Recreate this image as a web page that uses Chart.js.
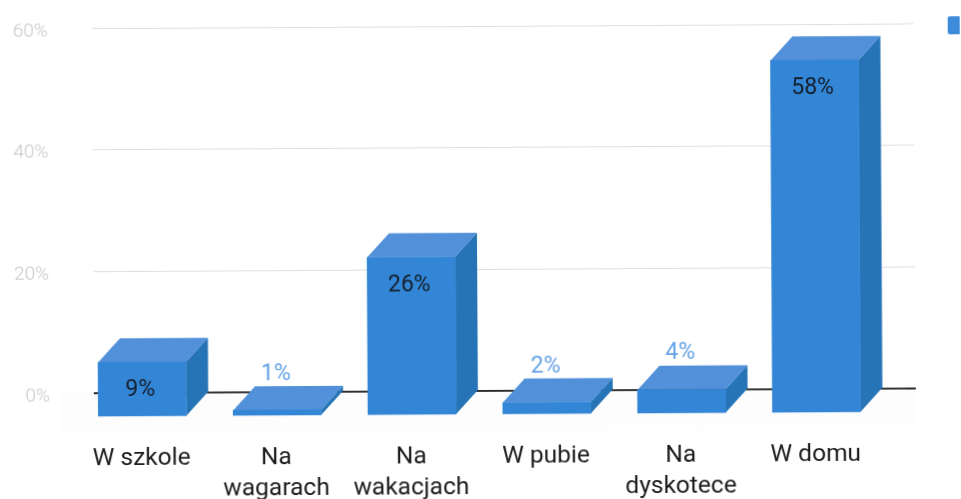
<!DOCTYPE html>
<html><head><meta charset="utf-8">
<style>html,body{margin:0;padding:0;background:#fff;overflow:hidden}
#wrap{width:961px;height:499px;transform:rotate(-0.33deg);transform-origin:480px 250px;filter:blur(.35px)}
canvas{display:block}</style>
<script src="https://cdn.jsdelivr.net/npm/chart.js@4"></script>
</head><body><div id="wrap"><canvas id="c" width="961" height="499"></canvas></div>
<script>
const categories=[["W szkole"],["Na","wagarach"],["Na","wakacjach"],["W pubie"],["Na","dyskotece"],["W domu"]];
const values=[9,1,26,2,4,58];
const yTicks=[0,20,40,60];
const insideLabelMin=5;
const DX=22,DY=24;
const frontColor='#3385d6',topColor='#5291da',sideColor='#2674b6',swatchColor='#3d8cdc';
const threeD={id:'threeD',
 beforeDatasetsDraw(chart){
  const {ctx,chartArea:a,scales:{y}}=chart;
  ctx.save();
  const g=ctx.createLinearGradient(0,a.bottom,0,a.bottom+50);
  g.addColorStop(0,'rgba(240,238,246,.12)');g.addColorStop(.6,'rgba(240,238,246,.12)');g.addColorStop(1,'rgba(240,238,246,0)');
  ctx.fillStyle=g;ctx.fillRect(60,a.bottom,a.right-50,50);
  y.ticks.forEach(t=>{
   const py=y.getPixelForValue(t.value);
   ctx.beginPath();ctx.strokeStyle=gridColor(t.value);ctx.lineWidth=gridWidth(t.value);
   ctx.moveTo(a.left-3,py);ctx.lineTo(a.left,py);
   ctx.moveTo(a.right,py);ctx.lineTo(a.right+10,py);ctx.stroke();
  });
  ctx.fillStyle=swatchColor;ctx.beginPath();ctx.roundRect(a.right+44,19,20,18,2);ctx.fill();
  ctx.restore();
 },
 beforeDatasetDraw(chart,args){
  const ctx=chart.ctx;
  args.meta.data.forEach(el=>{
   const h=el.width/2,x=el.x,y=el.y,b=el.base;
   ctx.fillStyle=topColor;ctx.beginPath();
   ctx.moveTo(x-h-DX,y+DY);ctx.lineTo(x+h-DX,y+DY);ctx.lineTo(x+h,y);ctx.lineTo(x-h,y);ctx.closePath();ctx.fill();
   ctx.fillStyle=sideColor;ctx.beginPath();
   ctx.moveTo(x+h-DX,y+DY);ctx.lineTo(x+h-DX,b+DY);ctx.lineTo(x+h,b);ctx.lineTo(x+h,y);ctx.closePath();ctx.fill();
  });
  ctx.save();ctx.translate(-DX,DY);
 },
 afterDatasetDraw(chart){chart.ctx.restore();},
 afterDatasetsDraw(chart){
  const ctx=chart.ctx,meta=chart.getDatasetMeta(0);
  ctx.save();ctx.textAlign='center';ctx.textBaseline='middle';ctx.font='400 23px Roboto';
  meta.data.forEach((el,i)=>{
   const v=values[i];
   if(v>=insideLabelMin){ctx.fillStyle='#15202c';ctx.fillText(v+'%',el.x-DX-2,el.y+DY+28);}
   else{ctx.fillStyle='#64a2e6';ctx.fillText(v+'%',el.x-DX-1,el.y-12);}
  });
  ctx.restore();
 }};
function gridColor(v){return v===0?'#2a2a2a':'#dedede';}
function gridWidth(v){return v===0?2:1;}
new Chart(document.getElementById('c'),{
 type:'bar',
 data:{labels:categories,datasets:[{data:values,backgroundColor:frontColor,barThickness:88,clip:false,borderWidth:0}]},
 plugins:[threeD],
 options:{responsive:false,animation:false,
  layout:{autoPadding:false,padding:{top:26,right:56,left:0,bottom:0}},
  plugins:{legend:{display:false},tooltip:{enabled:false}},
  scales:{
   x:{grid:{display:false},border:{display:false},
    afterFit(s){s.height=108;},
    ticks:{labelOffset:-23,padding:42,color:'#1c1c1c',font:{family:'Roboto',size:24.5,lineHeight:1.27}}},
   y:{min:0,max:60,border:{display:false},
    afterFit(s){s.width=96;},
    afterBuildTicks(s){s.ticks=yTicks.map(v=>({value:v}));},
    grid:{color:c=>gridColor(c.tick.value),lineWidth:c=>gridWidth(c.tick.value),tickLength:47,tickColor:'rgba(0,0,0,0)'},
    ticks:{padding:0,labelOffset:3,color:'#c6c6c6',font:{family:'Roboto',size:19,weight:'300'},callback:v=>v+'%'}}
  }}
});
</script></body></html>
